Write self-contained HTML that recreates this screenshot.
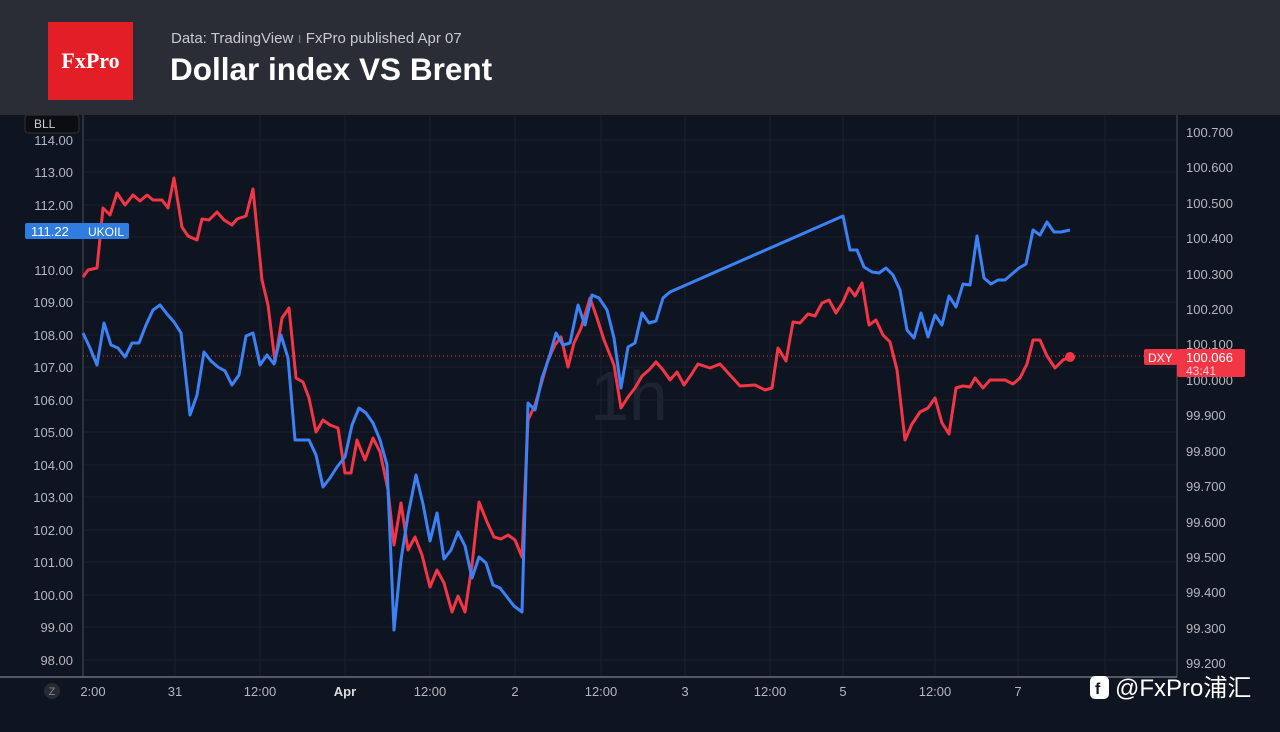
<!DOCTYPE html>
<html><head><meta charset="utf-8"><style>
body{margin:0;width:1280px;height:732px;background:#0f1421;overflow:hidden;font-family:"Liberation Sans",sans-serif;}
#hdr{position:absolute;left:0;top:0;width:1280px;height:115px;background:#2a2d35;}
#logo{position:absolute;left:48px;top:22px;width:85px;height:78px;background:#e41e26;color:#fff;font-family:"Liberation Serif",serif;font-size:22px;font-weight:bold;text-align:center;line-height:78px;}
#sub{position:absolute;left:171px;top:30px;color:#c7c9cf;font-size:15px;}
#title{position:absolute;left:170px;top:51px;color:#fff;font-size:31.5px;font-weight:bold;}
</style></head><body>
<div id="hdr"><div id="logo">FxPro</div><div id="sub">Data: TradingView <span style="color:#777">ı</span> FxPro published Apr 07</div><div id="title">Dollar index VS Brent</div></div>
<svg width="1280" height="617" viewBox="0 115 1280 617" style="position:absolute;left:0;top:115px" font-family="Liberation Sans,sans-serif">
<g stroke="#1b202b" stroke-width="1">
<line x1="175" y1="115" x2="175" y2="677"/><line x1="260" y1="115" x2="260" y2="677"/><line x1="345" y1="115" x2="345" y2="677"/><line x1="430" y1="115" x2="430" y2="677"/><line x1="515" y1="115" x2="515" y2="677"/><line x1="601" y1="115" x2="601" y2="677"/><line x1="685" y1="115" x2="685" y2="677"/><line x1="770" y1="115" x2="770" y2="677"/><line x1="843" y1="115" x2="843" y2="677"/><line x1="935" y1="115" x2="935" y2="677"/><line x1="1018" y1="115" x2="1018" y2="677"/><line x1="1105" y1="115" x2="1105" y2="677"/>
<line x1="83" y1="140" x2="1177" y2="140"/><line x1="83" y1="172" x2="1177" y2="172"/><line x1="83" y1="205" x2="1177" y2="205"/><line x1="83" y1="237" x2="1177" y2="237"/><line x1="83" y1="270" x2="1177" y2="270"/><line x1="83" y1="302" x2="1177" y2="302"/><line x1="83" y1="335" x2="1177" y2="335"/><line x1="83" y1="367" x2="1177" y2="367"/><line x1="83" y1="400" x2="1177" y2="400"/><line x1="83" y1="432" x2="1177" y2="432"/><line x1="83" y1="465" x2="1177" y2="465"/><line x1="83" y1="497" x2="1177" y2="497"/><line x1="83" y1="530" x2="1177" y2="530"/><line x1="83" y1="562" x2="1177" y2="562"/><line x1="83" y1="595" x2="1177" y2="595"/><line x1="83" y1="627" x2="1177" y2="627"/><line x1="83" y1="660" x2="1177" y2="660"/>
</g>
<line x1="83" y1="115" x2="83" y2="677" stroke="#4a4e58"/>
<line x1="1177" y1="115" x2="1177" y2="677" stroke="#4a4e58"/>
<line x1="0" y1="677" x2="1177" y2="677" stroke="#6a6e78" stroke-width="1.5"/>
<text x="590" y="420" fill="#1d2330" font-size="70">1h</text>
<g fill="#b4b7bf" font-size="13" text-anchor="end">
<text x="73" y="145">114.00</text><text x="73" y="177">113.00</text><text x="73" y="210">112.00</text><text x="73" y="275">110.00</text><text x="73" y="307">109.00</text><text x="73" y="340">108.00</text><text x="73" y="372">107.00</text><text x="73" y="405">106.00</text><text x="73" y="437">105.00</text><text x="73" y="470">104.00</text><text x="73" y="502">103.00</text><text x="73" y="535">102.00</text><text x="73" y="567">101.00</text><text x="73" y="600">100.00</text><text x="73" y="632">99.00</text><text x="73" y="665">98.00</text>
</g>
<g fill="#b4b7bf" font-size="13">
<text x="1186" y="137">100.700</text><text x="1186" y="172">100.600</text><text x="1186" y="208">100.500</text><text x="1186" y="243">100.400</text><text x="1186" y="279">100.300</text><text x="1186" y="314">100.200</text><text x="1186" y="349">100.100</text><text x="1186" y="385">100.000</text><text x="1186" y="420">99.900</text><text x="1186" y="456">99.800</text><text x="1186" y="491">99.700</text><text x="1186" y="527">99.600</text><text x="1186" y="562">99.500</text><text x="1186" y="597">99.400</text><text x="1186" y="633">99.300</text><text x="1186" y="668">99.200</text>
</g>
<g fill="#b4b7bf" font-size="13" text-anchor="middle">
<text x="93" y="696">2:00</text><text x="175" y="696">31</text><text x="260" y="696">12:00</text><text x="345" y="696" font-weight="bold" fill="#ddd">Apr</text><text x="430" y="696">12:00</text><text x="515" y="696">2</text><text x="601" y="696">12:00</text><text x="685" y="696">3</text><text x="770" y="696">12:00</text><text x="843" y="696">5</text><text x="935" y="696">12:00</text><text x="1018" y="696">7</text>
</g>
<circle cx="52" cy="691" r="8" fill="#262a33"/><text x="52" y="695" fill="#888" font-size="11" text-anchor="middle">Z</text>
<rect x="25" y="115" width="54" height="18" rx="3" fill="#0b0d12" stroke="#333"/><text x="34" y="128" fill="#ccc" font-size="12">BLL</text>
<line x1="83" y1="356" x2="1145" y2="356" stroke="#f23645" stroke-dasharray="1,3"/>
<polyline fill="none" stroke="#f23645" stroke-width="3" stroke-linejoin="round" points="83,277 88,270 97,268 103,208 110,215 117,193 125,205 133,195 140,201 147,195 153,200 162,200 168,208 174,178 182,227 188,236 197,240 202,219 209,220 217,212 224,220 232,225 237,219 246,216 253,189 262,280 268,305 275,362 282,318 289,308 296,378 303,382 309,398 316,432 323,420 330,425 338,428 345,473 351,473 357,440 365,460 373,438 380,452 388,490 394,545 401,503 408,550 415,537 422,555 430,587 437,570 444,583 452,612 458,596 465,612 472,565 479,502 487,522 494,537 501,539 508,535 515,540 522,557 528,420 535,405 541,385 548,360 555,345 561,337 568,367 574,343 581,328 590,298 597,318 604,340 614,365 621,408 628,397 635,388 642,376 649,370 656,362 663,370 670,380 677,372 684,385 691,375 698,364 710,368 720,364 730,375 740,386 755,385 765,390 772,388 778,348 786,361 793,322 800,323 808,314 815,316 822,303 829,300 836,313 843,302 849,288 855,296 862,283 869,325 876,320 883,335 890,342 897,370 905,440 912,424 920,412 928,408 935,398 942,423 949,434 956,388 963,386 970,387 975,378 983,388 990,380 998,380 1005,380 1013,384 1020,378 1027,364 1033,340 1040,340 1047,356 1055,368 1063,360 1070,357"/>
<polyline fill="none" stroke="#3b82f6" stroke-width="3" stroke-linejoin="round" points="83,333 90,348 97,365 104,323 111,345 118,348 125,357 132,343 139,343 146,325 153,310 160,305 167,314 174,322 181,333 190,415 197,395 204,352 211,361 218,367 225,371 232,385 239,375 246,336 253,333 260,365 267,355 274,364 281,335 288,358 295,440 302,440 309,440 316,455 323,487 330,478 337,467 345,457 352,425 359,408 366,413 373,423 380,440 387,465 394,630 401,560 408,515 416,475 423,504 430,541 437,513 444,559 451,550 458,532 465,546 472,578 479,557 486,563 493,585 500,588 507,597 514,606 522,612 528,403 535,410 542,378 549,358 556,333 563,345 570,343 578,305 585,325 592,295 599,298 607,310 614,338 621,388 628,347 635,343 642,313 649,323 656,321 663,298 670,292 843,216 850,250 857,250 864,267 872,272 879,273 886,268 893,275 900,290 907,330 914,338 921,313 928,337 935,315 942,325 949,296 956,307 963,284 970,285 977,236 984,278 991,284 998,280 1005,280 1012,274 1019,268 1026,264 1033,230 1040,235 1047,222 1054,232 1061,232 1070,230"/>
<circle cx="1070" cy="357" r="5" fill="#f23645"/>
<rect x="25" y="223" width="104" height="16" rx="2" fill="#2f7de1"/><text x="31" y="236" fill="#fff" font-size="13">111.22</text><text x="88" y="236" fill="#fff" font-size="12">UKOIL</text>
<rect x="1144" y="349" width="33" height="16" rx="2" fill="#f23645"/><text x="1148" y="362" fill="#fff" font-size="12">DXY</text>
<rect x="1177" y="349" width="68" height="28" rx="2" fill="#f23645"/><text x="1186" y="362" fill="#fff" font-size="13">100.066</text><text x="1186" y="375" fill="#fcd" font-size="12">43:41</text>
<rect x="1090" y="676" width="19" height="23" rx="5" fill="#fff"/><text x="1095" y="694" fill="#0f1421" font-size="16" font-weight="bold">f</text>
<text x="1115" y="696" fill="#fff" font-size="24" font-family="Liberation Sans,Noto Sans CJK SC,sans-serif">@FxPro浦汇</text>
</svg>
</body></html>
